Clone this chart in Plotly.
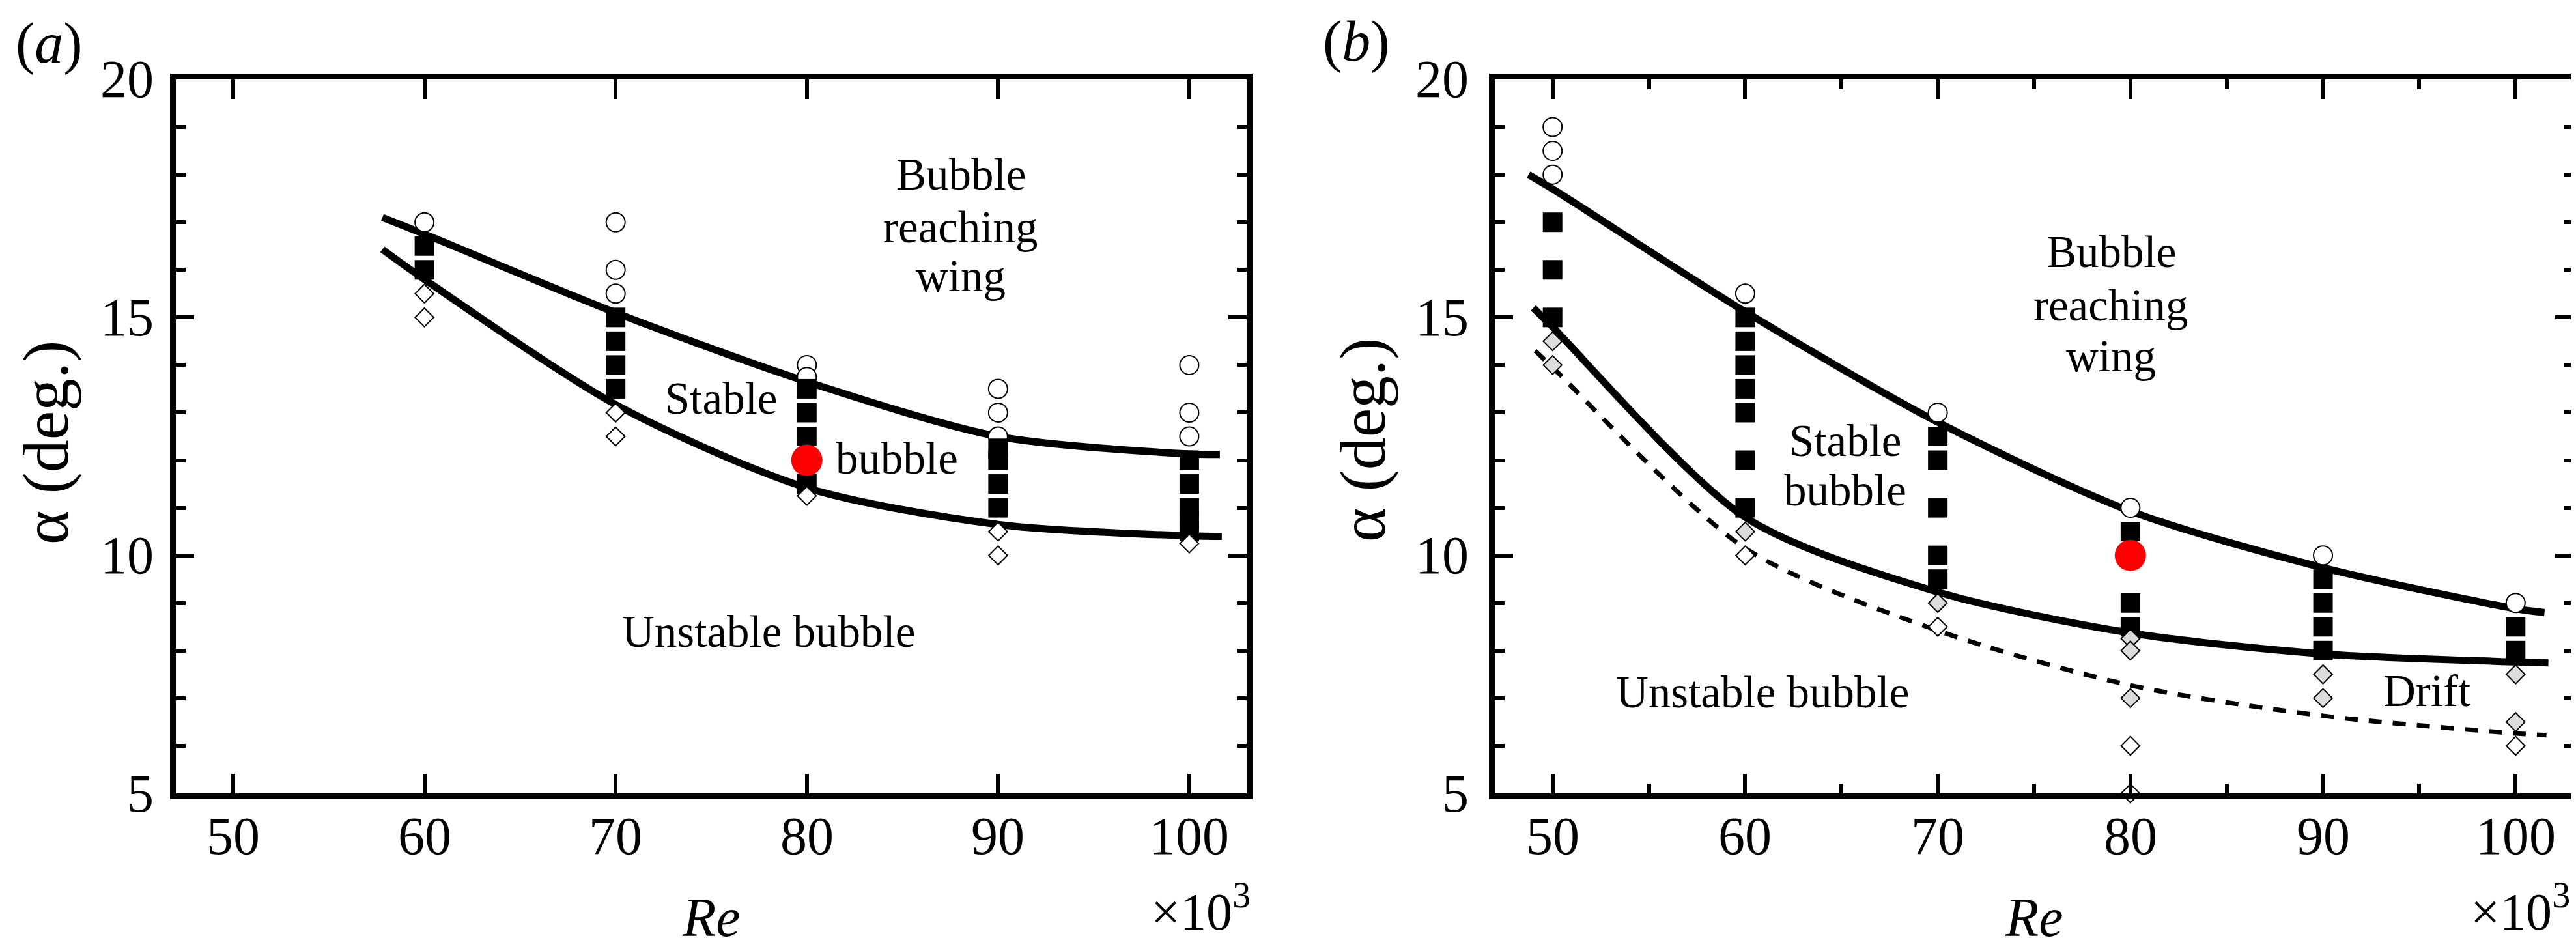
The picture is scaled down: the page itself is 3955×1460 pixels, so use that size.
import plotly.graph_objects as go

W, H = 3955, 1460
FONT = "Liberation Serif"

# ---------------- Panel (a) data ----------------
A_CIRCLE_RE = [60, 70, 70, 70, 80, 80, 90, 90, 90, 100, 100, 100]
A_CIRCLE_AL = [17, 17, 16, 15.5, 14, 13.75, 13.5, 13, 12.5, 14, 13, 12.5]
A_SQUARE_RE = [60, 60, 70, 70, 70, 70, 80, 80, 80, 80, 90, 90, 90, 90, 100, 100, 100, 100, 100]
A_SQUARE_AL = [16.5, 16, 15, 14.5, 14, 13.5, 13.5, 13, 12.5, 11.5, 12.25, 12, 11.5, 11, 12, 11.5, 11, 10.75, 10.5]
A_WDIAM_RE = [60, 60, 70, 70, 80, 90, 90, 100]
A_WDIAM_AL = [15.5, 15, 13, 12.5, 11.25, 10.5, 10, 10.25]
A_RED_RE = [80]
A_RED_AL = [12]
A_UPPER_RE = [57.8, 60, 70, 80, 90, 100, 101.6]
A_UPPER_AL = [17.1, 16.75, 15.1, 13.65, 12.5, 12.13, 12.12]
A_LOWER_RE = [57.8, 60, 70, 80, 90, 100, 101.7]
A_LOWER_AL = [16.43, 15.8, 13.17, 11.42, 10.65, 10.41, 10.40]

# ---------------- Panel (b) data ----------------
B_CIRCLE_RE = [50, 50, 50, 60, 70, 80, 90, 100]
B_CIRCLE_AL = [19, 18.5, 18, 15.5, 13, 11, 10, 9]
B_SQUARE_RE = [50, 50, 50, 60, 60, 60, 60, 60, 60, 60, 70, 70, 70, 70, 70, 80, 80, 80, 90, 90, 90, 90, 100, 100]
B_SQUARE_AL = [17, 16, 15, 15, 14.5, 14, 13.5, 13, 12, 11, 12.5, 12, 11, 10, 9.5, 10.5, 9, 8.5, 9.5, 9, 8.5, 8, 8.5, 8]
B_GDIAM_RE = [50, 50, 60, 70, 80, 80, 80, 90, 90, 100, 100]
B_GDIAM_AL = [14.5, 14, 10.5, 9, 8.25, 8, 7, 7.5, 7, 7.5, 6.5]
B_WDIAM_RE = [60, 70, 80, 80, 100]
B_WDIAM_AL = [10, 8.5, 6, 5, 6]
B_RED_RE = [80]
B_RED_AL = [10]
B_UPPER_RE = [48.75, 50, 60, 70, 80, 90, 100, 101.5]
B_UPPER_AL = [18.0, 17.7, 15.12, 12.8, 10.93, 9.74, 8.88, 8.8]
B_LOWER_RE = [49.0, 50, 60, 70, 80, 90, 100, 101.7]
B_LOWER_AL = [15.2, 14.8, 10.8, 9.23, 8.37, 7.93, 7.76, 7.74]
B_DASH_RE = [49.1, 50, 60, 70, 80, 90, 100, 101.6]
B_DASH_AL = [14.3, 13.95, 10.15, 8.42, 7.27, 6.63, 6.26, 6.22]

X_TICKS = [50, 60, 70, 80, 90, 100]
Y_TICKS = [5, 10, 15, 20]

fig = go.Figure()


def add_line(x, y, xa, ya, dash=None, width=11):
    fig.add_trace(go.Scatter(
        x=x, y=y, xaxis=xa, yaxis=ya, mode="lines",
        line=dict(color="black", width=width, shape="spline", smoothing=0.8,
                  dash=dash if dash else "solid"),
        hoverinfo="skip", showlegend=False))


def add_markers(x, y, xa, ya, symbol, size, fill, lw, lc="black"):
    fig.add_trace(go.Scatter(
        x=x, y=y, xaxis=xa, yaxis=ya, mode="markers", cliponaxis=False,
        marker=dict(symbol=symbol, size=size, color=fill,
                    line=dict(color=lc, width=lw)),
        hoverinfo="skip", showlegend=False))


# panel a
add_line(A_UPPER_RE, A_UPPER_AL, "x", "y")
add_line(A_LOWER_RE, A_LOWER_AL, "x", "y")
add_markers(A_CIRCLE_RE, A_CIRCLE_AL, "x", "y", "circle", 29, "white", 2)
add_markers(A_SQUARE_RE, A_SQUARE_AL, "x", "y", "square", 30, "black", 0)
add_markers(A_WDIAM_RE, A_WDIAM_AL, "x", "y", "diamond", 22, "white", 2)
add_markers(A_RED_RE, A_RED_AL, "x", "y", "circle", 48, "#ff0000", 0, "#ff0000")

# panel b
add_line(B_UPPER_RE, B_UPPER_AL, "x2", "y2")
add_line(B_LOWER_RE, B_LOWER_AL, "x2", "y2")
add_line(B_DASH_RE, B_DASH_AL, "x2", "y2", dash="20px,17px", width=7)
add_markers(B_CIRCLE_RE, B_CIRCLE_AL, "x2", "y2", "circle", 29, "white", 2)
add_markers(B_SQUARE_RE, B_SQUARE_AL, "x2", "y2", "square", 30, "black", 0)
add_markers(B_WDIAM_RE, B_WDIAM_AL, "x2", "y2", "diamond", 22, "white", 2)
add_markers(B_GDIAM_RE, B_GDIAM_AL, "x2", "y2", "diamond", 22, "#dcdcdc", 2)
add_markers(B_RED_RE, B_RED_AL, "x2", "y2", "circle", 48, "#ff0000", 0, "#ff0000")

ydom = [1 - 1210 / H, 1 - 114 / H]


def xaxis_cfg(domain, anchor, minor):
    d = dict(domain=domain, anchor=anchor, range=[47, 103], tickmode="array",
             tickvals=X_TICKS, showticklabels=False,
             ticks="inside", ticklen=30, tickwidth=6, tickcolor="black",
             showline=True, linewidth=9, linecolor="black", mirror="allticks",
             showgrid=False, zeroline=False, automargin=False, fixedrange=True)
    if minor:
        d["minor"] = dict(ticks="inside", ticklen=15, tickwidth=6,
                          tickcolor="black", dtick=5, tick0=50, showgrid=False)
    return d


def yaxis_cfg(anchor):
    return dict(domain=ydom, anchor=anchor, range=[5, 20], tickmode="array",
                tickvals=Y_TICKS, showticklabels=False,
                ticks="inside", ticklen=28, tickwidth=6, tickcolor="black",
                showline=True, linewidth=9, linecolor="black", mirror="allticks",
                showgrid=False, zeroline=False, automargin=False, fixedrange=True,
                minor=dict(ticks="inside", ticklen=15, tickwidth=6,
                           tickcolor="black", dtick=1, tick0=5, showgrid=False))


fig.update_layout(
    width=W, height=H, margin=dict(l=0, r=0, t=0, b=0),
    paper_bgcolor="white", plot_bgcolor="white", showlegend=False,
    font=dict(family=FONT, color="black"),
    xaxis=xaxis_cfg([262 / W, 1906 / W], "y", False),
    yaxis=yaxis_cfg("x"),
    xaxis2=xaxis_cfg([2287 / W, 3943 / W], "y2", True),
    yaxis2=yaxis_cfg("x2"),
)

ann = []


def txt(text, x, y, size, xref="paper", yref="paper", angle=0, xanchor="center"):
    if xref == "paper":
        x = x / W
    if yref == "paper":
        y = 1 - y / H
    ann.append(dict(text=text, x=x, y=y, xref=xref, yref=yref, showarrow=False,
                    xanchor=xanchor, yanchor="middle", textangle=angle,
                    font=dict(family=FONT, size=size, color="black")))


# tick labels, drawn at the axis values
TF = 82
for xr, ylab_right, yr in (("x", 230, "y"), ("x2", 2249, "y2")):
    for v in X_TICKS:
        txt(str(v), v, 1275, TF, xref=xr)
    for v in Y_TICKS:
        txt(str(v), ylab_right, v, TF, yref=yr, xanchor="right")

# region labels (a)
RS = 69
txt("Bubble", 88.06, 18.0, RS, "x", "y")
txt("reaching", 88.06, 16.9, RS, "x", "y")
txt("wing", 88.06, 15.86, RS, "x", "y")
txt("Stable", 75.5, 13.3, RS, "x", "y")
txt("bubble", 84.7, 12.03, RS, "x", "y")
txt("Unstable bubble", 78.0, 8.4, RS, "x", "y")
# region labels (b)
txt("Bubble", 79.0, 16.37, RS, "x2", "y2")
txt("reaching", 79.0, 15.25, RS, "x2", "y2")
txt("wing", 79.0, 14.18, RS, "x2", "y2")
txt("Stable", 65.2, 12.4, RS, "x2", "y2")
txt("bubble", 65.2, 11.36, RS, "x2", "y2")
txt("Unstable bubble", 60.9, 7.12, RS, "x2", "y2")
txt("Drift", 95.4, 7.15, RS, "x2", "y2")

# panel tags
txt("(<i>a</i>)", 67, 58, 88)
txt("(<i>b</i>)", 2074, 56, 88)
# axis titles
txt("α (deg.)", 62, 672, 100, angle=-90)
txt("α (deg.)", 2084, 668, 100, angle=-90)
txt("<i>Re</i>", 1084, 1400, 84)
txt("<i>Re</i>", 3115, 1400, 84)
txt("×10<sup>3</sup>", 1914, 1385, 80, xanchor="right")
txt("×10<sup>3</sup>", 3940, 1385, 80, xanchor="right")

fig.update_layout(annotations=ann)
fig.write_html("out.html")
